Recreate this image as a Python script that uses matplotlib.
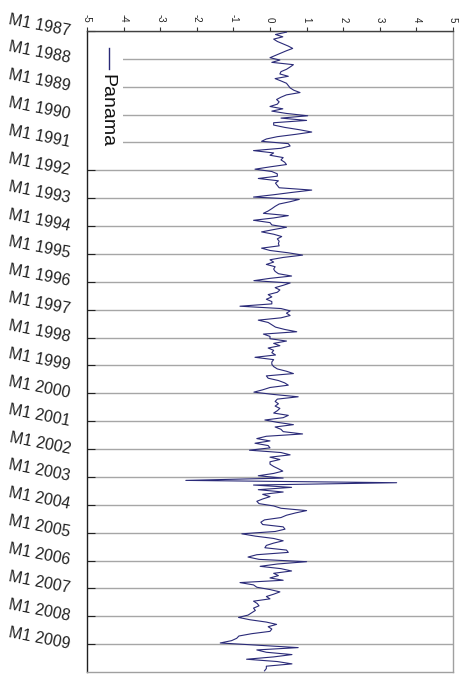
import matplotlib
matplotlib.use("Agg")
import matplotlib.pyplot as plt
import numpy as np
from matplotlib.patches import Rectangle
from matplotlib.lines import Line2D

plt.rcParams['font.family'] = ['Liberation Sans', 'DejaVu Sans']

# Category axis: one labelled tick per January, monthly observations
years = list(range(1987, 2010))
year_labels = [f"M1 {y}" for y in years]
value_ticks = [-5, -4, -3, -2, -1, 0, 1, 2, 3, 4, 5]
series_name = "Panama"

# Monthly values, one list per year (Jan..Dec)
panama_1987 = [0.45, 0.15, 0.35, 0.1, 0.2, 0.35, 0.5, 0.62, 0.45, 0.3, 0.15, 0.0]
panama_1988 = [0.27, 0.05, 0.64, 0.55, 0.45, 0.3, 0.27, 0.5, 0.14, 0.3, 0.45, 0.5]
panama_1989 = [0.55, 0.65, 0.82, 0.45, 0.3, 0.18, 0.25, 0.2, 0.0, 0.35, 0.05, 0.45]
panama_1990 = [1.03, 0.3, 1.0, 0.1, 0.1, 0.4, 0.8, 1.14, 0.7, 0.2, -0.1, -0.23]
panama_1991 = [0.5, 0.55, 0.3, -0.45, 0.1, 0.0, 0.36, 0.3, 0.4, 0.45, 0.0, -0.41]
panama_1992 = [0.05, 0.2, 0.2, -0.32, 0.23, 0.15, 0.2, 0.25, 1.14, 0.6, 0.1, -0.45]
panama_1993 = [0.8, 0.55, 0.25, 0.14, 0.05, -0.05, -0.18, 0.5, 0.1, -0.45, 0.0, 0.05]
panama_1994 = [0.45, 0.1, -0.23, 0.1, 0.32, 0.2, 0.25, 0.23, 0.25, -0.23, 0.0, 0.5]
panama_1995 = [0.89, 0.36, 0.0, 0.1, -0.1, 0.14, 0.1, 0.14, 0.23, 0.59, 0.0, -0.44]
panama_1996 = [0.55, 0.36, 0.14, 0.27, 0.2, -0.05, 0.05, -0.1, 0.05, 0.05, -0.82, 0.3]
panama_1997 = [0.55, 0.45, 0.55, 0.3, -0.32, -0.05, 0.05, 0.15, 0.4, 0.73, -0.18, 0.0]
panama_1998 = [0.0, 0.45, 0.1, 0.27, -0.05, 0.1, 0.05, 0.15, -0.41, 0.1, 0.05, 0.05]
panama_1999 = [0.1, 0.2, 0.45, 0.64, -0.1, -0.05, 0.23, 0.4, 0.5, 0.0, -0.2, -0.44]
panama_2000 = [0.1, 0.77, 0.2, 0.14, 0.23, 0.14, 0.27, 0.2, 0.1, 0.5, 0.36, -0.14]
panama_2001 = [0.2, 0.64, 0.14, 0.3, 0.36, 0.89, -0.1, -0.36, 0.0, -0.41, -0.05, 0.0]
panama_2002 = [-0.56, 0.3, 0.55, 0.0, 0.27, 0.0, 0.0, 0.1, 0.23, 0.35, 0.1, -0.32]
panama_2003 = [0.36, -2.3, 3.46, -0.45, 0.59, -0.32, 0.36, -0.2, 0.0, -0.2, -0.36, -0.3]
panama_2004 = [0.1, 0.3, 1.0, 0.7, 0.45, 0.3, -0.15, -0.25, -0.2, 0.36, 0.41, 0.14]
panama_2005 = [-0.77, -0.4, 0.1, 0.36, 0.1, -0.1, -0.14, 0.45, 0.5, -0.36, -0.6, -0.3]
panama_2006 = [1.0, 0.2, -0.27, 0.3, 0.59, 0.1, 0.23, 0.0, 0.36, -0.82, -0.45, -0.36]
panama_2007 = [0.0, 0.27, 0.1, -0.1, 0.0, -0.45, -0.35, -0.3, -0.45, -0.4, -0.5, -0.6]
panama_2008 = [-0.86, -0.55, -0.1, 0.18, -0.05, 0.05, 0.0, -0.5, -0.85, -0.91, -1.05, -1.36]
panama_2009 = [-0.3, 0.77, -0.36, -0.1, 0.6, 0.1, -0.64, 0.2, 0.6, -0.1, -0.1, -0.15]

panama = np.concatenate([
    panama_1987, panama_1988, panama_1989, panama_1990, panama_1991,
    panama_1992, panama_1993, panama_1994, panama_1995, panama_1996,
    panama_1997, panama_1998, panama_1999, panama_2000, panama_2001,
    panama_2002, panama_2003, panama_2004, panama_2005, panama_2006,
    panama_2007, panama_2008, panama_2009,
])
n_months = len(panama)
month_pos = np.arange(n_months) + 0.5

W, H = 471, 674
fig = plt.figure(figsize=(W / 100, H / 100), dpi=100)
ax = fig.add_axes([87 / W, 1 - 672 / H, 366 / W, 641 / H])

# Rotated layout: values run left-to-right, time runs top-to-bottom
ax.plot(panama, month_pos, color='#2a2a78', lw=0.8, zorder=3)
ax.set_xlim(value_ticks[0], value_ticks[-1])
ax.set_ylim(n_months, 0)

# Value axis along the top
ax.xaxis.tick_top()
ax.set_xticks(value_ticks)
ax.set_xticklabels([str(v) for v in value_ticks])
ax.tick_params(axis='x', top=True, bottom=False, direction='out', length=3,
               width=0.8, color='#333333', labelsize=7, pad=3,
               labelcolor='#222222')
for lbl in ax.get_xticklabels():
    lbl.set_rotation(-90)
    lbl.set_va('bottom')
    lbl.set_ha('center')

# Year axis down the left side
ax.set_yticks(np.arange(0, n_months, 12))
ax.set_yticklabels(year_labels)
ax.tick_params(axis='y', direction='in', length=6, width=0.8, color='#222222',
               labelsize=11.5, pad=12, labelcolor='#222222')
for lbl in ax.get_yticklabels():
    lbl.set_rotation(-11)
    lbl.set_rotation_mode('anchor')
    lbl.set_ha('right')
    lbl.set_va('center')

ax.yaxis.grid(True, color='#a6a6a6', lw=1.0, zorder=0)
ax.set_axisbelow(True)

ax.spines['left'].set_color('#202020')
ax.spines['top'].set_color('#404040')
ax.spines['right'].set_color('#a0a0a0')
ax.spines['bottom'].set_color('#a0a0a0')
for s in ax.spines.values():
    s.set_linewidth(1.0)

# Legend: white patch, short line sample and rotated series name
ax.add_patch(Rectangle((0.0, 1 - (150 - 31) / 641), (123 - 87) / 366,
                       (150 - 35) / 641, transform=ax.transAxes,
                       facecolor='white', edgecolor='none', zorder=1.5))
ax.add_line(Line2D([(109 - 87) / 366] * 2,
                   [1 - (48 - 31) / 641, 1 - (69 - 31) / 641],
                   transform=ax.transAxes, color='#2a2a78', lw=1.0, zorder=2))
ax.text((107 - 87) / 366, 1 - (74 - 31) / 641, series_name,
        transform=ax.transAxes, rotation=-90, ha='center', va='top',
        fontsize=14, color='#111111', zorder=2)

fig.savefig('out.png', dpi=100)
